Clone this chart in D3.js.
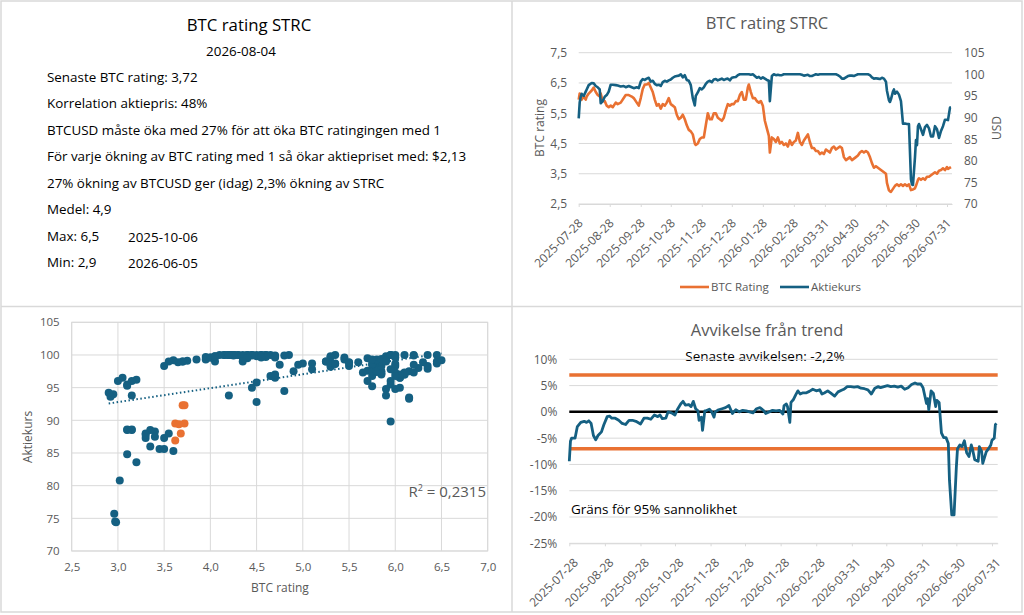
<!DOCTYPE html>
<html>
<head>
<meta charset="utf-8">
<script src="https://cdn.jsdelivr.net/npm/d3@7"></script>
<style>
  html, body { margin: 0; padding: 0; background: #fff; }
  svg { display: block; font-family: "Open Sans", sans-serif; }
</style>
</head>
<body>
<svg id="dash" width="1024" height="615"></svg>
<script>
// ---- data ----
const START = new Date(2025, 6, 28);
const END = new Date(2026, 7, 5);

const dateTicks = ["2025-07-28", "2025-08-28", "2025-09-28", "2025-10-28", "2025-11-28",
  "2025-12-28", "2026-01-28", "2026-02-28", "2026-03-31", "2026-04-30", "2026-05-31",
  "2026-06-30", "2026-07-31"];

// [days since 2025-07-28, BTC rating, Aktiekurs (USD)]
const strcDaily = [
  [0,5.95,89.8],[1,6.15,93.5],[2,6.0,94.8],[3,5.95,95.5],[5,6.05,95.0],[7,5.95,96.0],[8,6.05,96.5],[10,6.15,97.5],[13,6.25,98.0],[15,6.35,97.9],
  [17,6.2,97.3],[19,6.1,97.0],[21,6.05,96.5],[22,6.15,93.3],[24,5.9,93.8],[26,5.9,94.8],[28,5.75,95.2],[30,5.7,96.0],[32,5.75,97.6],[34,5.7,97.6],
  [37,5.85,97.5],[39,5.8,97.4],[42,5.85,97.2],[45,6.0,97.3],[47,6.1,97.0],[50,6.1,97.3],[53,6.05,97.0],[55,6.0,96.8],[58,5.85,97.0],[60,5.75,96.8],
  [62,6.0,98.3],[64,6.3,98.9],[66,6.45,98.7],[68,6.45,99.0],[70,6.5,99.2],[72,6.35,98.3],[74,6.2,98.5],[76,5.95,97.8],[78,5.75,97.5],[80,5.8,97.6],
  [82,5.65,97.3],[84,5.8,98.2],[86,5.75,98.5],[88,5.85,98.3],[90,6.0,98.6],[92,5.8,98.8],[94,5.75,99.2],[96,5.7,99.5],[98,5.45,99.6],[100,5.3,99.7],
  [102,5.35,100.0],[104,5.45,99.3],[106,5.3,99.8],[108,5.1,98.7],[110,4.95,98.5],[112,4.9,97.5],[114,4.8,94.5],[116,4.5,92.8],[117,4.45,95.0],[119,4.5,95.8],
  [121,4.65,96.8],[123,4.7,96.5],[125,4.7,97.0],[127,5.1,97.8],[129,5.5,98.3],[131,5.3,98.5],[133,5.3,98.2],[135,5.5,98.8],[137,5.5,98.9],[139,5.35,98.6],
  [141,5.3,98.8],[143,5.25,99.0],[145,5.35,98.7],[147,5.6,98.9],[149,5.8,99.0],[151,5.75,98.6],[153,5.8,99.2],[155,5.8,99.3],[157,5.9,99.4],[159,5.9,99.8],
  [161,6.1,100.0],[163,6.2,100.0],[165,5.95,100.0],[167,5.95,100.0],[169,6.35,100.0],[170,6.45,100.0],[172,6.2,99.9],[174,6.0,100.0],[176,6.0,99.6],[178,5.9,99.2],
  [180,5.85,99.4],[182,5.9,99.0],[184,5.75,99.3],[186,5.25,99.0],[188,5.0,98.7],[190,4.75,98.5],[191,4.2,93.8],[193,4.7,99.6],[195,4.65,100.0],[197,4.55,99.8],
  [199,4.7,99.9],[201,4.5,99.8],[203,4.55,99.8],[205,4.45,100.0],[207,4.5,100.0],[209,4.4,100.0],[211,4.6,100.0],[213,4.45,100.0],[215,4.55,100.0],[217,4.6,100.0],
  [219,4.85,100.0],[221,4.55,100.0],[223,4.45,99.9],[225,4.6,99.7],[227,4.7,99.8],[229,4.8,99.9],[231,4.55,99.6],[233,4.35,99.6],[235,4.35,99.8],[237,4.25,100.0],
  [239,4.25,99.9],[241,4.15,100.0],[243,4.2,100.0],[245,4.15,100.0],[247,4.3,100.0],[249,4.25,100.0],[251,4.2,100.0],[253,4.35,100.0],[255,4.4,100.0],[257,4.3,100.0],
  [259,4.35,99.8],[261,4.4,99.5],[263,4.35,99.0],[265,4.05,99.0],[267,3.95,99.3],[269,4.0,99.6],[271,4.05,99.7],[273,3.95,99.7],[275,4.0,99.6],[277,4.05,99.8],
  [279,4.1,100.0],[281,4.2,100.0],[283,4.25,100.0],[285,4.2,100.0],[287,4.25,100.0],[289,4.2,100.0],[291,4.05,99.8],[293,3.85,99.3],[295,3.7,99.0],[297,3.75,99.1],
  [299,3.7,99.0],[301,3.65,98.9],[303,3.6,99.2],[305,3.55,99.0],[307,3.5,98.3],[308,3.2,96.2],[310,2.95,94.0],[311,2.92,93.6],[312,2.9,94.2],[314,3.0,96.0],
  [315,3.05,96.5],[316,3.1,95.5],[318,3.15,96.0],[320,3.1,95.3],[322,3.15,93.8],[324,3.1,88.6],[326,3.15,88.6],[328,3.1,88.5],[330,3.15,88.5],[332,2.96,75.7],
  [333,2.97,74.5],[334,2.98,74.4],[336,3.02,80.8],[337,3.1,84.8],[338,3.2,83.6],[339,3.3,88.0],[340,3.35,88.5],[342,3.3,87.3],[344,3.35,86.0],[346,3.3,87.8],
  [348,3.4,88.3],[350,3.4,87.5],[352,3.45,85.6],[354,3.5,85.6],[356,3.55,88.0],[358,3.5,87.3],[360,3.6,85.3],[362,3.62,86.9],[364,3.68,88.0],[366,3.62,89.5],
  [368,3.72,89.5],[369,3.66,89.4],[371,3.7,92.3],[372,3.72,92.3]
];
const recentCount = 7;   // last points shown in orange in the scatter

// linear trend of Aktiekurs on BTC rating (as shown in the scatter)
const trendSlope = 2.13;
const trendIntercept = 86.4;

// [days since 2025-07-28, deviation from trend in %]
const deviation = [
  [0,-9.4],[1,-5.6],[2,-5.0],[5,-5.0],[7,-2.8],[10,-2.0],[13,-1.8],[15,-2.0],[17,-1.7],[19,-2.2],
  [21,-4.5],[23,-5.3],[25,-4.5],[28,-3.8],[30,-2.5],[33,-0.9],[35,-0.8],[37,-1.2],[40,-1.2],[43,-1.6],
  [46,-2.2],[49,-2.4],[52,-1.6],[55,-1.6],[58,-1.8],[62,-2.3],[65,-1.2],[68,-1.2],[71,-1.4],[74,-0.6],
  [77,-0.9],[79,-0.6],[81,-1.3],[84,-1.2],[86,0.0],[89,-0.2],[92,-0.6],[94,0.4],[97,1.5],[99,2.0],
  [101,1.3],[104,1.4],[106,1.0],[108,2.0],[110,0.6],[112,0.2],[113,-1.6],[115,-1.0],[116,-3.5],[118,0.2],
  [119,0.2],[122,0.5],[124,0.0],[126,-1.0],[127,0.0],[130,0.4],[133,0.6],[136,0.8],[139,1.2],[142,-0.3],
  [145,0.4],[148,0.0],[151,0.3],[154,0.2],[157,0.0],[160,-0.2],[163,0.6],[166,0.8],[169,0.3],[171,-0.3],
  [174,0.0],[177,0.3],[180,0.2],[183,0.3],[186,-0.4],[187,1.2],[189,1.5],[190,1.0],[192,-2.0],[193,1.8],
  [195,2.3],[197,3.2],[199,4.0],[201,3.4],[203,3.6],[206,3.6],[209,3.9],[212,4.3],[215,4.0],[218,4.2],
  [220,3.4],[222,3.6],[225,4.0],[228,3.5],[231,3.0],[234,3.8],[237,4.1],[239,4.3],[242,4.8],[245,4.8],
  [248,4.7],[251,4.8],[254,4.5],[257,4.4],[260,4.2],[263,3.4],[266,4.5],[269,4.8],[271,4.6],[274,4.8],
  [277,5.0],[280,4.8],[283,4.9],[286,4.7],[289,4.9],[292,4.3],[295,4.6],[298,5.2],[301,5.5],[303,5.3],
  [306,5.3],[308,4.6],[311,1.6],[312,2.5],[313,0.4],[315,4.0],[317,3.5],[319,1.0],[320,2.2],[322,1.8],
  [324,-4.0],[326,-4.9],[328,-4.9],[330,-6.0],[331,-13.0],[333,-19.6],[335,-19.6],[337,-10.5],[338,-7.0],[340,-6.3],
  [342,-6.6],[344,-5.5],[346,-7.8],[348,-8.5],[350,-6.3],[351,-7.0],[353,-9.1],[356,-9.4],[357,-6.6],[359,-7.5],
  [360,-9.8],[363,-7.6],[365,-7.0],[367,-6.3],[368,-5.4],[370,-5.0],[371,-2.4],[372,-2.2]
];
const bandLimit = 7;     // ± % limit for 95% probability

const ratingTicks = [2.5, 3.5, 4.5, 5.5, 6.5, 7.5];
const priceTicks = [70, 75, 80, 85, 90, 95, 100, 105];
const scatterXTicks = [2.5, 3.0, 3.5, 4.0, 4.5, 5.0, 5.5, 6.0, 6.5, 7.0];
const scatterYTicks = [70, 75, 80, 85, 90, 95, 100, 105];
const devTicks = [10, 5, 0, -5, -10, -15, -20, -25];
const seriesNames = ["BTC Rating", "Aktiekurs"];

const infoTitle = "BTC rating STRC";
const infoDate = "2026-08-04";
const infoLines = [
  "Senaste BTC rating: 3,72",
  "Korrelation aktiepris: 48%",
  "BTCUSD måste öka med 27% för att öka BTC ratingingen med 1",
  "För varje ökning av BTC rating med 1 så ökar aktiepriset med: $2,13",
  "27% ökning av BTCUSD ger (idag) 2,3% ökning av STRC",
  "Medel: 4,9"
];
const infoExtremes = [["Max: 6,5", "2025-10-06"], ["Min: 2,9", "2026-06-05"]];
const r2Value = "0,2315";
const lastDeviation = "-2,2%";

// ---- style ----
const BLUE = "#156082", ORANGE = "#E97132", GRID = "#d9d9d9", TXT = "#595959";
const sv = d3.formatLocale({decimal: ",", thousands: "\u00a0", grouping: [3], currency: ["$", ""], minus: "-"});
const fmt1 = sv.format(".1f"), fmtInt = sv.format("d");
const fmtDate = d3.timeFormat("%Y-%m-%d");
const parseDate = d3.timeParse("%Y-%m-%d");
const dayToDate = d => d3.timeDay.offset(START, d);

const svg = d3.select("#dash");

// panel frame
svg.append("rect").attr("x", 1).attr("y", 1).attr("width", 1021).attr("height", 611)
  .attr("fill", "none").attr("stroke", GRID).attr("stroke-width", 1.5);
svg.append("line").attr("x1", 512).attr("x2", 512).attr("y1", 1).attr("y2", 612)
  .attr("stroke", GRID).attr("stroke-width", 1.5);
svg.append("line").attr("x1", 1).attr("x2", 1022).attr("y1", 306.5).attr("y2", 306.5)
  .attr("stroke", GRID).attr("stroke-width", 1.5);

function cleanAxis(g, size) {
  g.attr("font-family", null).attr("font-size", null);
  g.selectAll("text").attr("fill", TXT).style("font-size", size + "px");
}

// rotated date labels; (dx, dy) = where the label end sits relative to its tick
function dateAxis(g, x, yPos, size, dx, dy) {
  g.attr("transform", `translate(0,${yPos})`)
    .call(d3.axisBottom(x).tickValues(dateTicks.map(parseDate)).tickSize(3).tickSizeOuter(0).tickFormat(fmtDate))
    .call(a => cleanAxis(a, size))
    .call(a => a.select(".domain").attr("stroke", GRID))
    .call(a => a.selectAll(".tick line").attr("stroke", GRID))
    .call(a => a.selectAll("text").attr("y", 0).attr("dy", "0.35em")
      .attr("text-anchor", "end").attr("transform", `translate(${dx},${dy}) rotate(-45)`));
}

// ---- top-left: info text ----
const info = svg.append("g");
info.append("text").attr("x", 249).attr("y", 31).attr("text-anchor", "middle")
  .style("font-size", "16.8px").attr("fill", "#000").text(infoTitle);
info.append("text").attr("x", 241).attr("y", 56).attr("text-anchor", "middle")
  .style("font-size", "13.4px").attr("fill", "#000").text(infoDate);
info.selectAll("text.line").data(infoLines).join("text").attr("class", "line")
  .attr("x", 47).attr("y", (d, i) => 82 + i * 26.4)
  .style("font-size", "13.4px").attr("fill", "#000").text(d => d);
info.selectAll("g.ext").data(infoExtremes).join("g").attr("class", "ext")
  .each(function(d, i) {
    const g = d3.select(this);
    g.append("text").attr("x", 47).attr("y", 240.5 + i * 26.4).style("font-size", "13.4px").text(d[0]);
    g.append("text").attr("x", 128).attr("y", 242 + i * 26).style("font-size", "13.4px").text(d[1]);
  });

// ---- top-right: BTC rating & price over time ----
{
  const L = 578.7, R = 952, T = 52.7, B = 204;
  const x = d3.scaleTime().domain([START, END]).range([L, R]);
  const yL = d3.scaleLinear().domain([2.5, 7.5]).range([B, T]);
  const yR = d3.scaleLinear().domain([70, 105]).range([B, T]);
  const g = svg.append("g");

  g.append("text").attr("x", 767).attr("y", 29).attr("text-anchor", "middle")
    .style("font-size", "16.5px").attr("fill", TXT).text(infoTitle);

  g.selectAll("line.grid").data(ratingTicks).join("line").attr("class", "grid")
    .attr("x1", L).attr("x2", R).attr("y1", d => yL(d)).attr("y2", d => yL(d))
    .attr("stroke", GRID).attr("stroke-width", 1);

  g.append("g").call(dateAxis, x, B, 12, 1.5, 17);

  g.append("g").attr("transform", `translate(${L},0)`)
    .call(d3.axisLeft(yL).tickValues(ratingTicks).tickSize(0).tickPadding(11.5).tickFormat(fmt1))
    .call(a => cleanAxis(a, 12)).call(a => a.select(".domain").remove());
  g.append("g").attr("transform", `translate(${R},0)`)
    .call(d3.axisRight(yR).tickValues(priceTicks).tickSize(0).tickPadding(12).tickFormat(fmtInt))
    .call(a => cleanAxis(a, 12)).call(a => a.select(".domain").remove());

  g.append("text").attr("transform", "translate(544,128) rotate(-90)").attr("text-anchor", "middle")
    .style("font-size", "12px").attr("fill", TXT).text("BTC rating");
  g.append("text").attr("transform", "translate(1001,128) rotate(-90)").attr("text-anchor", "middle")
    .style("font-size", "12px").attr("fill", TXT).text("USD");

  const lineRating = d3.line().x(d => x(dayToDate(d[0]))).y(d => yL(d[1]));
  const linePrice = d3.line().x(d => x(dayToDate(d[0]))).y(d => yR(d[2]));
  g.append("path").datum(strcDaily).attr("d", lineRating).attr("fill", "none")
    .attr("stroke", ORANGE).attr("stroke-width", 2.6).attr("stroke-linejoin", "round");
  g.append("path").datum(strcDaily).attr("d", linePrice).attr("fill", "none")
    .attr("stroke", BLUE).attr("stroke-width", 2.6).attr("stroke-linejoin", "round");

  const legend = g.selectAll("g.leg").data(seriesNames).join("g").attr("class", "leg")
    .attr("transform", (d, i) => `translate(${680 + i * 100},287)`);
  legend.append("line").attr("x1", 0).attr("x2", 29).attr("stroke", (d, i) => i ? BLUE : ORANGE)
    .attr("stroke-width", 2.6);
  legend.append("text").attr("x", 31).attr("y", 4).style("font-size", "11.5px").attr("fill", TXT).text(d => d);
}

// ---- bottom-left: scatter rating vs price ----
{
  const L = 71.7, R = 487.7, T = 322.3, B = 551;
  const x = d3.scaleLinear().domain([2.5, 7.0]).range([L, R]);
  const y = d3.scaleLinear().domain([70, 105]).range([B, T]);
  const g = svg.append("g");

  g.selectAll("line.gy").data(scatterYTicks).join("line").attr("class", "gy")
    .attr("x1", L).attr("x2", R).attr("y1", d => y(d)).attr("y2", d => y(d)).attr("stroke", GRID);
  g.selectAll("line.gx").data(scatterXTicks).join("line").attr("class", "gx")
    .attr("y1", T).attr("y2", B).attr("x1", d => x(d)).attr("x2", d => x(d)).attr("stroke", GRID);

  g.append("g").attr("transform", `translate(0,${B})`)
    .call(d3.axisBottom(x).tickValues(scatterXTicks).tickSize(0).tickPadding(12).tickFormat(fmt1))
    .call(a => cleanAxis(a, 11.5)).call(a => a.select(".domain").remove());
  g.append("g").attr("transform", `translate(${L},0)`)
    .call(d3.axisLeft(y).tickValues(scatterYTicks).tickSize(0).tickPadding(12).tickFormat(fmtInt))
    .call(a => cleanAxis(a, 11.5)).call(a => a.select(".domain").remove());

  g.append("text").attr("transform", "translate(32,437) rotate(-90)").attr("text-anchor", "middle")
    .style("font-size", "12px").attr("fill", TXT).text("Aktiekurs");
  g.append("text").attr("x", 280).attr("y", 592).attr("text-anchor", "middle")
    .style("font-size", "12px").attr("fill", TXT).text("BTC rating");

  // dotted trendline across the rating range
  const ext = d3.extent(strcDaily, d => d[1]);
  g.append("line").attr("x1", x(ext[0])).attr("x2", x(ext[1]))
    .attr("y1", y(trendIntercept + trendSlope * ext[0])).attr("y2", y(trendIntercept + trendSlope * ext[1]))
    .attr("stroke", BLUE).attr("stroke-width", 2).attr("stroke-dasharray", "1.5,2.5");

  const n = strcDaily.length;
  g.selectAll("circle").data(strcDaily).join("circle")
    .attr("cx", d => x(d[1])).attr("cy", d => y(d[2])).attr("r", 4)
    .attr("fill", (d, i) => i >= n - recentCount ? ORANGE : BLUE);

  const r2 = g.append("text").attr("x", 486).attr("y", 497).attr("text-anchor", "end")
    .style("font-size", "15px").attr("fill", TXT);
  r2.append("tspan").text("R");
  r2.append("tspan").attr("dy", "-6").style("font-size", "9px").text("2");
  r2.append("tspan").attr("dy", "6").text(" = " + r2Value);

  g.append("rect").attr("x", L).attr("y", T).attr("width", R - L).attr("height", B - T)
    .attr("fill", "none").attr("stroke", GRID);
}

// ---- bottom-right: deviation from trend ----
{
  const L = 569.3, R = 997.7, T = 359.3, B = 543.3;
  const x = d3.scaleTime().domain([START, END]).range([L, R]);
  const y = d3.scaleLinear().domain([-25, 10]).range([B, T]);
  const g = svg.append("g");

  g.append("text").attr("x", 767).attr("y", 336).attr("text-anchor", "middle")
    .style("font-size", "16.5px").attr("fill", TXT).text("Avvikelse från trend");
  g.append("text").attr("x", 765).attr("y", 360.5).attr("text-anchor", "middle")
    .style("font-size", "13.5px").attr("fill", "#000").text("Senaste avvikelsen: " + lastDeviation);

  g.selectAll("line.grid").data(devTicks).join("line").attr("class", "grid")
    .attr("x1", L).attr("x2", R).attr("y1", d => y(d)).attr("y2", d => y(d)).attr("stroke", GRID);

  g.append("g").call(dateAxis, x, B, 12, 6, 17);
  g.append("g").attr("transform", `translate(${L},0)`)
    .call(d3.axisLeft(y).tickValues(devTicks).tickSize(0).tickPadding(12).tickFormat(d => fmtInt(d) + "%"))
    .call(a => cleanAxis(a, 12)).call(a => a.select(".domain").remove());

  g.selectAll("line.band").data([bandLimit, -bandLimit]).join("line").attr("class", "band")
    .attr("x1", L).attr("x2", R).attr("y1", d => y(d)).attr("y2", d => y(d))
    .attr("stroke", ORANGE).attr("stroke-width", 3.5);
  g.append("line").attr("x1", L).attr("x2", R).attr("y1", y(0)).attr("y2", y(0))
    .attr("stroke", "#000").attr("stroke-width", 2.5);

  g.append("path").datum(deviation)
    .attr("d", d3.line().x(d => x(dayToDate(d[0]))).y(d => y(d[1])))
    .attr("fill", "none").attr("stroke", BLUE).attr("stroke-width", 2.8).attr("stroke-linejoin", "round");

  g.append("text").attr("x", 571).attr("y", 513.5)
    .style("font-size", "13.5px").attr("fill", "#000").text("Gräns för 95% sannolikhet");
}
</script>
</body>
</html>
